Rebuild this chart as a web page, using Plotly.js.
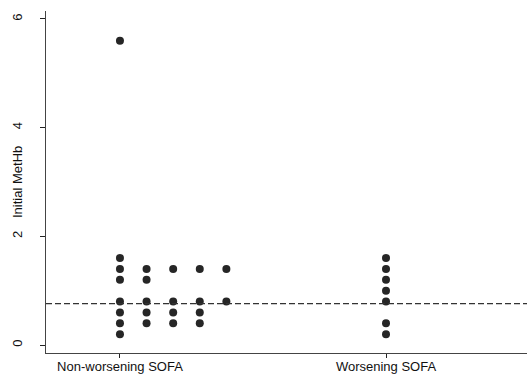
<!DOCTYPE html>
<html>
<head>
<meta charset="utf-8">
<script src="https://cdn.plot.ly/plotly-3.0.1.min.js"></script>
<style>html,body{margin:0;padding:0;background:#fff}#chart{width:527px;height:374px}</style>
</head>
<body>
<div id="chart"></div>
<script>
// Data
var categories = ["Non-worsening SOFA", "Worsening SOFA"];
var nonWorsening = [5.6, 1.6, 1.4, 1.4, 1.4, 1.4, 1.4, 1.2, 1.2, 0.8, 0.8, 0.8, 0.8, 0.8, 0.6, 0.6, 0.6, 0.6, 0.4, 0.4, 0.4, 0.4, 0.2];
var worsening = [1.6, 1.4, 1.2, 1.0, 0.8, 0.4, 0.2];
var referenceLine = 0.76;
var yTicks = [0, 2, 4, 6];
var yTitle = "Initial MetHb";

// Dot-plot layout: identical values are stacked side by side to the right of the category position
var colStep = 0.1;
function dotPositions(values, center) {
  var seen = {};
  var xs = [];
  values.forEach(function (v) {
    var k = v.toFixed(2);
    var c = seen[k] || 0;
    seen[k] = c + 1;
    xs.push(center + c * colStep);
  });
  return xs;
}

var groups = [nonWorsening, worsening];
var traces = groups.map(function (vals, i) {
  return {
    type: "scatter",
    mode: "markers",
    x: dotPositions(vals, i + 1),
    y: vals,
    marker: { color: "#262626", size: 8, line: { width: 0 } },
    hoverinfo: "y",
    showlegend: false,
    cliponaxis: false
  };
});

var layout = {
  width: 527,
  height: 374,
  margin: { l: 46, r: 0, t: 11, b: 21, pad: 0 },
  paper_bgcolor: "#ffffff",
  plot_bgcolor: "#ffffff",
  font: { family: "Liberation Sans, Arial, sans-serif", color: "#111", size: 13 },
  showlegend: false,
  xaxis: {
    range: [0.722, 2.53],
    tickmode: "array",
    tickvals: [1, 2],
    ticktext: categories,
    ticks: "outside",
    ticklen: 4,
    tickwidth: 1,
    tickcolor: "#222",
    showline: true,
    linecolor: "#444",
    linewidth: 1.2,
    showgrid: false,
    zeroline: false,
    tickfont: { size: 13, color: "#111" },
    ticklabelstandoff: -3,
    fixedrange: true
  },
  yaxis: {
    range: [-0.147, 6.147],
    tickmode: "array",
    tickvals: yTicks,
    ticktext: yTicks.map(String),
    tickangle: -90,
    ticks: "outside",
    ticklen: 5,
    tickwidth: 1,
    tickcolor: "#222",
    showline: true,
    linecolor: "#444",
    linewidth: 1.2,
    showgrid: false,
    zeroline: false,
    tickfont: { size: 13, color: "#111" },
    ticklabelstandoff: 13,
    fixedrange: true
  },
  annotations: [{
    text: yTitle,
    xref: "paper",
    yref: "paper",
    x: 0,
    y: 0.5,
    xanchor: "center",
    yanchor: "middle",
    xshift: -29,
    textangle: -90,
    showarrow: false,
    font: { size: 13, color: "#111" }
  }],
  shapes: [{
    type: "line",
    xref: "paper",
    x0: 0,
    x1: 1,
    yref: "y",
    y0: referenceLine,
    y1: referenceLine,
    line: { color: "#333", width: 1.2, dash: "6px,3px" }
  }]
};

Plotly.newPlot("chart", traces, layout, { displayModeBar: false, staticPlot: true });
</script>
</body>
</html>
